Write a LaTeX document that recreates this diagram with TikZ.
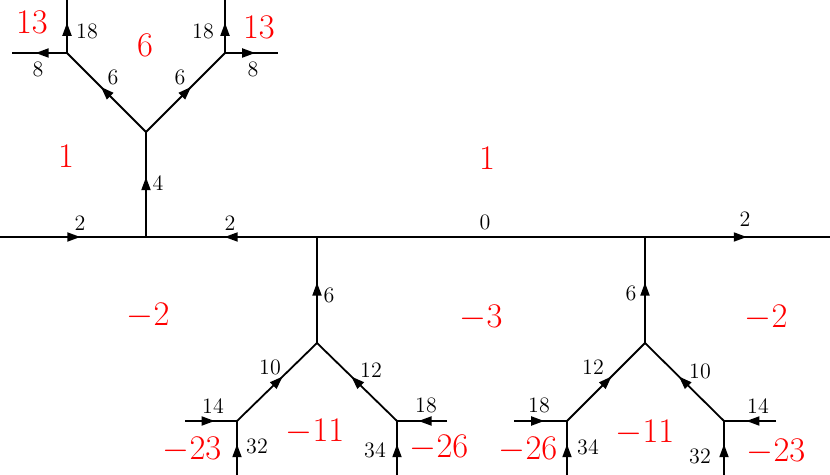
\documentclass[tikz,border=0pt]{standalone}
\usetikzlibrary{arrows.meta,decorations.markings}

\begin{document}
\begin{tikzpicture}[
        x=0.5pt, y=-0.5pt,
        every node/.style={font=\fontsize{11}{13}\selectfont},
        edge/.style={line width=0.9pt, black},
        flow/.style={edge, postaction={decorate},
            decoration={markings, mark=at position #1 with {\arrow{Triangle[length=6.5pt,width=4.5pt]}}}},
        flow/.default=0.57,
        lbl/.style={inner sep=1pt},
        region/.style={red, font=\LARGE, inner sep=1pt}
    ]
        \useasboundingbox (0,0) rectangle (830,475);

        % main horizontal line
        \coordinate (L) at (0,237);
        \coordinate (A) at (146,237);
        \coordinate (B) at (317,237);
        \coordinate (C) at (645,237);
        \coordinate (R) at (830,237);

        % upper tree
        \coordinate (T) at (146,132);
        \coordinate (TL) at (67,53);
        \coordinate (TR) at (225,53);
        \coordinate (TLu) at (67,0);
        \coordinate (TLl) at (12,53);
        \coordinate (TRu) at (225,0);
        \coordinate (TRr) at (278,53);

        % lower left tree
        \coordinate (P) at (317,343);
        \coordinate (PL) at (237,421);
        \coordinate (PR) at (397,421);
        \coordinate (PLl) at (185,421);
        \coordinate (PLd) at (237,475);
        \coordinate (PRr) at (447,421);
        \coordinate (PRd) at (397,475);

        % lower right tree
        \coordinate (Q) at (645,343);
        \coordinate (QL) at (567,421);
        \coordinate (QR) at (724,421);
        \coordinate (QLl) at (514,421);
        \coordinate (QLd) at (567,475);
        \coordinate (QRr) at (776,421);
        \coordinate (QRd) at (724,475);

        % edges with flow
        \draw[flow=0.55] (L) -- (A);
        \draw[flow=0.54] (B) -- (A);
        \draw[edge] (B) -- (C);
        \draw[flow=0.55] (C) -- (R);

        \draw[flow] (A) -- (T);
        \draw[flow] (T) -- (TL);
        \draw[flow] (T) -- (TR);
        \draw[flow] (TL) -- (TLu);
        \draw[flow] (TL) -- (TLl);
        \draw[flow] (TR) -- (TRu);
        \draw[flow] (TR) -- (TRr);

        \draw[flow] (P) -- (B);
        \draw[flow] (PL) -- (P);
        \draw[flow] (PR) -- (P);
        \draw[flow] (PLl) -- (PL);
        \draw[flow] (PLd) -- (PL);
        \draw[flow] (PRr) -- (PR);
        \draw[flow] (PRd) -- (PR);

        \draw[flow] (Q) -- (C);
        \draw[flow] (QL) -- (Q);
        \draw[flow] (QR) -- (Q);
        \draw[flow] (QLl) -- (QL);
        \draw[flow] (QLd) -- (QL);
        \draw[flow] (QRr) -- (QR);
        \draw[flow] (QRd) -- (QR);

        % edge weights
        \node[lbl] (wLA) at (80,223) {2};
        \node[lbl] (wBA) at (230,223) {2};
        \node[lbl] (wBC) at (485,222) {0};
        \node[lbl] (wCR) at (745,219) {2};
        \node[lbl] (wAT) at (158,183) {4};
        \node[lbl] (wTTL) at (113,77) {6};
        \node[lbl] (wTTR) at (180,77) {6};
        \node[lbl] (wTLu) at (87,31) {18};
        \node[lbl] (wTLl) at (38,69) {8};
        \node[lbl] (wTRu) at (203,31) {18};
        \node[lbl] (wTRr) at (253,69) {8};

        \node[lbl] (wPB) at (329,295) {6};
        \node[lbl] (wPLP) at (270,367) {10};
        \node[lbl] (wPRP) at (371,370) {12};
        \node[lbl] (wPLl) at (213,406) {14};
        \node[lbl] (wPLd) at (257,446) {32};
        \node[lbl] (wPRr) at (426,405) {18};
        \node[lbl] (wPRd) at (375,450) {34};

        \node[lbl] (wQC) at (631,293) {6};
        \node[lbl] (wQLQ) at (593,367) {12};
        \node[lbl] (wQRQ) at (700,371) {10};
        \node[lbl] (wQLl) at (539,405) {18};
        \node[lbl] (wQLd) at (588,447) {34};
        \node[lbl] (wQRr) at (758,406) {14};
        \node[lbl] (wQRd) at (700,456) {32};

        % region values
        \node[region] (r1) at (32,22) {$13$};
        \node[region] (r2) at (145,45) {$6$};
        \node[region] (r3) at (259,27) {$13$};
        \node[region] (r4) at (66,156) {$1$};
        \node[region] (r5) at (487,158) {$1$};
        \node[region] (r6) at (148,316) {$-2$};
        \node[region] (r7) at (481,318) {$-3$};
        \node[region] (r8) at (766,318) {$-2$};
        \node[region] (r9) at (315,432) {$-11$};
        \node[region] (r10) at (192,450) {$-23$};
        \node[region] (r11) at (439,448) {$-26$};
        \node[region] (r12) at (645,433) {$-11$};
        \node[region] (r13) at (528,450) {$-26$};
        \node[region] (r14) at (776,452) {$-23$};

    \end{tikzpicture}
\end{document}
